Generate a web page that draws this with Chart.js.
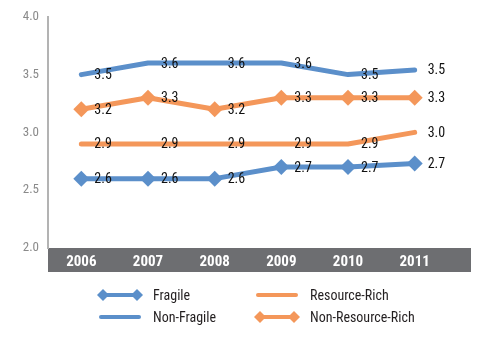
<!DOCTYPE html>
<html>
<head>
<meta charset="utf-8">
<script src="https://cdn.jsdelivr.net/npm/chart.js@4/dist/chart.umd.min.js"></script>
<style>
  body { margin: 0; background: #fff; }
  #myChart { display: block; }
</style>
</head>
<body>
<canvas id="myChart" width="500" height="338"></canvas>
<script>
// values
var years = ['2006', '2007', '2008', '2009', '2010', '2011'];
var fragile = [2.6, 2.6, 2.6, 2.7, 2.7, 2.73];
var nonFragile = [3.5, 3.6, 3.6, 3.6, 3.5, 3.54];
var resourceRich = [2.9, 2.9, 2.9, 2.9, 2.9, 3.0];
var nonResourceRich = [3.2, 3.3, 3.2, 3.3, 3.3, 3.3];
var yTicks = [2.0, 2.5, 3.0, 3.5, 4.0];

var BLUE = '#5b8fca';
var ORANGE = '#f4975a';
var FONT = "'Roboto Condensed', 'Liberation Sans Narrow', sans-serif";

function line(label, data, color, diamonds) {
  return {
    label: label,
    data: data,
    borderColor: color,
    backgroundColor: color,
    borderWidth: 5,
    tension: 0,
    pointStyle: 'rectRot',
    pointRadius: diamonds ? 8 : 0,
    pointHoverRadius: diamonds ? 8 : 0,
    pointBorderWidth: 0,
    borderCapStyle: 'round',
    borderJoinStyle: 'round'
  };
}

// grey band behind the year labels
var bandPlugin = {
  id: 'band',
  beforeDraw: function (chart) {
    var ctx = chart.ctx, a = chart.chartArea;
    ctx.save();
    ctx.fillStyle = '#6d6e71';
    ctx.fillRect(a.left, a.bottom, a.right - a.left + 23, 24);
    ctx.restore();
  }
};

// value labels to the right of each point
var labelPlugin = {
  id: 'valueLabels',
  afterDatasetsDraw: function (chart) {
    var ctx = chart.ctx;
    ctx.save();
    ctx.font = '14px ' + FONT;
    ctx.fillStyle = '#111';
    ctx.textAlign = 'left';
    ctx.textBaseline = 'middle';
    chart.data.datasets.forEach(function (ds, i) {
      chart.getDatasetMeta(i).data.forEach(function (pt, j) {
        ctx.fillText(ds.data[j].toFixed(1), pt.x + 13, pt.y + 1);
      });
    });
    ctx.restore();
  }
};

// two-column legend below the band
var legendPlugin = {
  id: 'twoColLegend',
  afterDraw: function (chart) {
    var ctx = chart.ctx;
    var items = [
      { text: 'Fragile', color: BLUE, dia: true, x: 99, y: 295 },
      { text: 'Resource-Rich', color: ORANGE, dia: false, x: 256, y: 295 },
      { text: 'Non-Fragile', color: BLUE, dia: false, x: 99, y: 317 },
      { text: 'Non-Resource-Rich', color: ORANGE, dia: true, x: 256, y: 317 }
    ];
    ctx.save();
    items.forEach(function (it) {
      ctx.strokeStyle = it.color;
      ctx.fillStyle = it.color;
      ctx.lineWidth = 4;
      ctx.lineCap = 'round';
      ctx.beginPath();
      ctx.moveTo(it.x + 2, it.y);
      ctx.lineTo(it.x + 40, it.y);
      ctx.stroke();
      if (it.dia) {
        [it.x + 4, it.x + 38].forEach(function (cx) {
          ctx.beginPath();
          ctx.moveTo(cx, it.y - 6);
          ctx.lineTo(cx + 6, it.y);
          ctx.lineTo(cx, it.y + 6);
          ctx.lineTo(cx - 6, it.y);
          ctx.closePath();
          ctx.fill();
        });
      }
      ctx.fillStyle = '#231f20';
      ctx.font = '14px ' + FONT;
      ctx.textBaseline = 'middle';
      ctx.fillText(it.text, it.x + 54, it.y + 1);
    });
    ctx.restore();
  }
};

const config = {
  type: 'line',
  data: {
    labels: years,
    datasets: [
      line('Non-Fragile', nonFragile, BLUE, false),
      line('Non-Resource-Rich', nonResourceRich, ORANGE, true),
      line('Resource-Rich', resourceRich, ORANGE, false),
      line('Fragile', fragile, BLUE, true)
    ]
  },
  options: {
    responsive: false,
    animation: false,
    devicePixelRatio: 1,
    layout: { padding: { top: 12, right: 52, left: 0, bottom: 0 } },
    plugins: {
      legend: { display: false },
      tooltip: { enabled: false }
    },
    scales: {
      x: {
        offset: true,
        grid: { display: false, drawTicks: false },
        border: { display: false },
        ticks: {
          color: '#ffffff',
          padding: 5,
          font: { family: FONT, size: 15, weight: 'bold' }
        },
        afterFit: function (s) { s.height = 90; }
      },
      y: {
        min: 2.0,
        max: 4.0,
        afterBuildTicks: function (s) { s.ticks = yTicks.map(function (v) { return { value: v }; }); },
        grid: { display: false, drawTicks: false },
        border: { display: true, color: '#b3b3b3', width: 2 },
        ticks: {
          color: '#8a8a8a',
          padding: 9,
          font: { family: FONT, size: 13 },
          callback: function (v) { return Number(v).toFixed(1); }
        },
        afterFit: function (s) { s.width = 48; }
      }
    }
  },
  plugins: [bandPlugin, labelPlugin, legendPlugin]
};

var myChart = new Chart(document.getElementById('myChart'), config);
</script>
</body>
</html>
